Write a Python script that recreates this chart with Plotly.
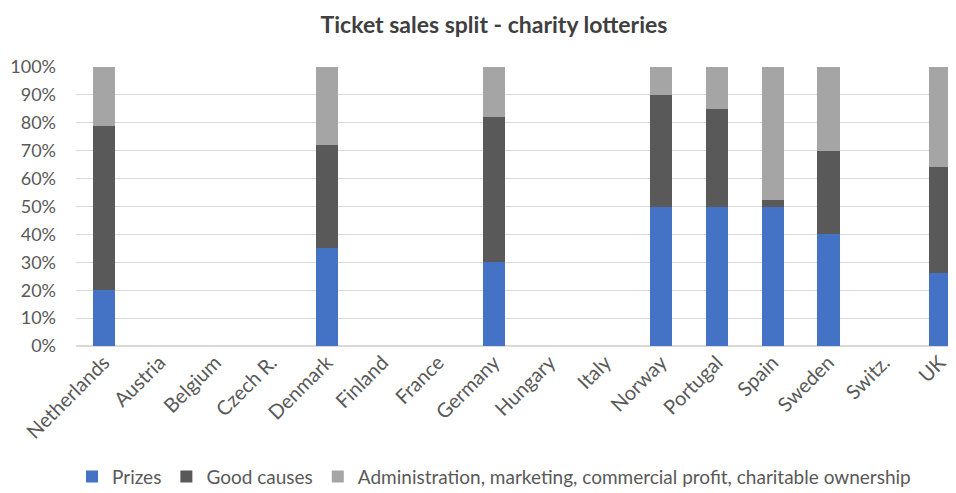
import plotly.graph_objects as go

countries = ["Netherlands", "Austria", "Belgium", "Czech R.", "Denmark", "Finland", "France",
             "Germany", "Hungary", "Italy", "Norway", "Portugal", "Spain", "Sweden", "Switz.", "UK"]
prizes = [20, None, None, None, 35, None, None, 30, None, None, 50, 50, 50, 40, None, 26]
good_causes = [59, None, None, None, 37, None, None, 52, None, None, 40, 35, 2.5, 30, None, 38]
admin = [21, None, None, None, 28, None, None, 18, None, None, 10, 15, 47.5, 30, None, 36]

series = [
    ("Prizes", prizes, "#4472C4"),
    ("Good causes", good_causes, "#595959"),
    ("Administration, marketing, commercial profit, charitable ownership", admin, "#A5A5A5"),
]

fig = go.Figure()
for name, vals, col in series:
    fig.add_trace(go.Bar(x=countries, y=vals, name=name, marker=dict(color=col, line=dict(width=0))))

W, H = 948, 485  # page body has an 8px margin
font_family = "Lato, 'Open Sans', sans-serif"
fig.update_layout(
    barmode="stack",
    bargap=0.6,
    width=W, height=H,
    margin=dict(l=68, r=0, t=59, b=147, autoexpand=False),
    plot_bgcolor="white", paper_bgcolor="white",
    font=dict(family=font_family, color="#595959", size=17),
    title=dict(text="<b>Ticket sales split - charity lotteries</b>", x=486 / W, xref="container",
               xanchor="center", y=1 - 17 / H, yref="container", yanchor="middle",
               font=dict(size=23, color="#404040")),
    legend=dict(orientation="h", x=0.475, xanchor="center", yref="paper", y=-0.468,
                yanchor="middle", font=dict(size=19, color="#595959"), traceorder="normal",
                tracegroupgap=0),
    xaxis=dict(tickangle=-45, range=[-0.5, 15.29], showgrid=False, showline=False,
               automargin=False, tickfont=dict(size=20, color="#595959")),
    yaxis=dict(range=[0, 100], dtick=10, ticksuffix="%", gridcolor="#D9D9D9", gridwidth=1,
               zeroline=True, zerolinecolor="#D9D9D9", showline=False, automargin=False,
               ticklabelstandoff=19, tickfont=dict(size=18, color="#595959")),
)

fig.write_html("out.html")
